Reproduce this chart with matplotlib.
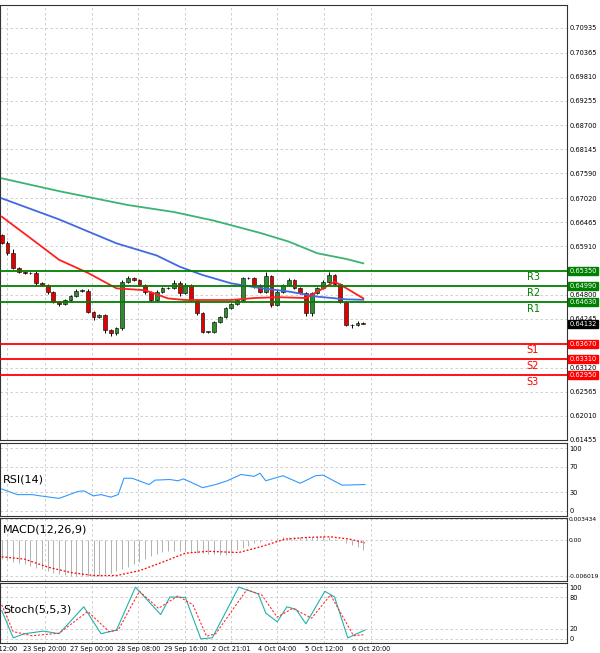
import matplotlib
matplotlib.use("Agg")
import matplotlib.pyplot as plt
import numpy as np

first_open = 0.66171
closes = [0.65994,0.65764,0.65404,0.65312,0.65289,0.65289,0.65058,0.65020,0.64867,0.64636,
          0.64583,0.64675,0.64767,0.64890,0.64890,0.64406,0.64276,0.64330,0.63984,0.63923,
          0.64023,0.65097,0.65173,0.65135,0.65020,0.64867,0.64675,0.64867,0.64943,0.64943,
          0.65074,0.64828,0.65020,0.64675,0.64368,0.63946,0.63946,0.64176,0.64291,0.64483,
          0.64583,0.64675,0.65173,0.65173,0.65020,0.64867,0.65227,0.64560,0.64867,0.65020,
          0.65135,0.64943,0.64844,0.64368,0.64828,0.64943,0.65097,0.65250,0.65043,0.64636,
          0.64099,0.64099,0.64138,0.64132]
upper_wick = [0.0003,0.0004,0.0008,0.0002,0.0002,0.0004,0.0006,0.0002,0.0003,0.0002,
              0.0002,0.0002,0.0003,0.0003,0.0003,0.0003,0.0002,0.0002,0.0002,0.0002,
              0.0003,0.0004,0.0006,0.0003,0.0002,0.0003,0.0002,0.0003,0.0002,0.0003,
              0.0005,0.0003,0.0005,0.0002,0.0002,0.0002,0.0002,0.0002,0.0002,0.0002,
              0.0002,0.0003,0.0004,0.0002,0.0003,0.0003,0.0010,0.0002,0.0003,0.0003,
              0.0004,0.0003,0.0002,0.0002,0.0002,0.0003,0.0003,0.0008,0.0003,0.0002,
              0.0002,0.0002,0.0005,0.0002]
lower_wick = [0.0002,0.0005,0.0002,0.0002,0.0002,0.0002,0.0004,0.0002,0.0006,0.0003,
              0.0004,0.0002,0.0003,0.0002,0.0002,0.0002,0.0006,0.0002,0.0006,0.0007,
              0.0006,0.0003,0.0002,0.0002,0.0002,0.0005,0.0004,0.0003,0.0002,0.0002,
              0.0002,0.0005,0.0002,0.0002,0.0003,0.0002,0.0002,0.0002,0.0002,0.0002,
              0.0002,0.0002,0.0002,0.0002,0.0006,0.0002,0.0002,0.0004,0.0002,0.0002,
              0.0002,0.0002,0.0003,0.0005,0.0006,0.0002,0.0002,0.0002,0.0002,0.0003,
              0.0002,0.0007,0.0002,0.0002]

ma_red_x = [0,5,10,15,20,25,29,32,35,40,44,48,53,56,58,60,63]
ma_red = [0.66593,0.66100,0.65600,0.65300,0.64943,0.64900,0.64710,0.64675,0.64675,0.64675,
          0.64720,0.64740,0.64720,0.64940,0.65097,0.64950,0.64713]
ma_blue_x = [0,10,20,27,31,35,40,45,50,55,60,63]
ma_blue = [0.67015,0.66530,0.65979,0.65700,0.65442,0.65250,0.65058,0.64950,0.64870,0.64752,
           0.64690,0.64680]
ma_green_x = [0,10,22,30,37,45,50,55,60,63]
ma_green = [0.67475,0.67180,0.66860,0.66700,0.66500,0.66220,0.66020,0.65750,0.65620,0.65519]

levels = [0.65350,0.64990,0.64630,0.63670,0.63310,0.62950]
level_names = ["R3","R2","R1","S1","S2","S3"]
level_colors = ["#008000","#008000","#008000","#ff0000","#ff0000","#ff0000"]
current_price = 0.64132
price_ticks = [0.70935,0.70365,0.69810,0.69255,0.68700,0.68145,0.67590,0.67020,0.66465,
               0.65910,0.64800,0.64245,0.63120,0.62565,0.62010,0.61455]

rsi_x = [0,2.7,5.3,6.7,10,13.3,14.3,16,17.3,19,20.3,21.3,22.7,25.7,26.7,29.3,30.7,31.7,35,37.3,
         39.3,41.7,44,45,46,49,52,54.7,56,59.3,63.3]
rsi = [35,26,26,24,20,31,32,24,26,22,26,52,52,42,49,50,48,51,37,42,48,58,55,60,48,56,44,56,57,41,42]

macd_hist = [-0.0031,-0.0033,-0.0036,-0.0038,-0.0040,-0.0043,-0.0046,-0.0049,-0.0052,-0.0055,
             -0.0057,-0.0058,-0.0060,-0.0060,-0.0060,-0.0060,-0.0060,-0.0059,-0.0057,-0.0054,
             -0.0052,-0.0048,-0.0045,-0.0040,-0.0036,-0.0031,-0.0027,-0.0023,-0.0020,-0.0019,
             -0.0018,-0.0018,-0.0019,-0.0020,-0.0021,-0.0022,-0.0023,-0.0024,-0.0025,-0.0025,
             -0.0022,-0.0016,-0.0013,-0.0010,-0.0006,-0.0003,-0.0001,0.0001,0.0003,0.0004,
             0.0004,0.0004,0.0005,0.0005,0.0005,0.0005,0.0006,0.0005,0.0002,-0.0001,
             -0.0006,-0.0008,-0.0012,-0.0016]
macd_sig_x = [0,4,8,12,16,20,24,28,32,36,41.3,45.3,49.3,53.3,57.3,60.7,63.3]
macd_sig = [-0.0028,-0.0032,-0.0045,-0.0054,-0.0059,-0.0059,-0.0051,-0.0037,-0.0022,-0.0019,
            -0.0021,-0.0011,0.0001,0.0004,0.0005,0.0001,-0.0005]

stoch_x = [0,2,4,7.3,10,14.3,17.3,20,23.3,27.7,29.3,32,34.7,36.7,41.3,44.7,46,48,49.7,51.3,53,
           56.3,58,60.3,63.3]
stoch_k = [55,2,10,15,10,62,10,17,100,47,81,80,0,2,100,87,50,33,62,57,29,92,81,2,17]
stoch_sig_x = [0,2,5.3,10,15,18.7,20.3,24,27.3,30.7,33.3,35.7,37.3,42.7,45.3,48,50.7,54,57.3,
               61.3,63]
stoch_d = [66,14,6,11,53,14,17,92,59,83,66,5,10,95,85,42,59,40,85,6,8]

date_x = [1, 7.5, 15.7, 23.8, 32, 40, 48, 56.1, 64.3]
date_labels = ["t12:00","23 Sep 20:00","27 Sep 00:00","28 Sep 08:00","29 Sep 16:00",
               "2 Oct 21:01","4 Oct 04:00","5 Oct 12:00","6 Oct 20:00"]

W, H = 600, 653
fig = plt.figure(figsize=(6, 6.53), dpi=100)
def ax_px(top, bottom):
    return fig.add_axes([0.0, 1 - bottom / H, 567 / W, (bottom - top) / H])

ax = ax_px(5, 440)
ax_rsi = ax_px(443, 516)
ax_macd = ax_px(518, 581)
ax_st = ax_px(583, 643)
XL = (-0.3, 98.5)
tick_fs = 4.8

for a in (ax, ax_rsi, ax_macd, ax_st):
    a.set_xlim(*XL)
    a.set_xticks(date_x)
    a.tick_params(axis='x', length=0, labelbottom=False)
    a.yaxis.tick_right()
    a.tick_params(axis='y', length=0, labelsize=tick_fs, pad=2)
    a.grid(True, color="#c8c8c8", linestyle=(0, (3, 3)), linewidth=0.6)
    for s in a.spines.values():
        s.set_color("#333333"); s.set_linewidth(0.8)

opens = [first_open] + closes[:-1]
for i, (o, c, uw, lw) in enumerate(zip(opens, closes, upper_wick, lower_wick)):
    col = "#2e8b2e" if c >= o else "#e00000"
    hi, lo = max(o, c) + uw, min(o, c) - lw
    ax.vlines(i, lo, hi, color="black", linewidth=0.7, zorder=3)
    b = max(abs(c - o), 0.00006)
    ax.add_patch(plt.Rectangle((i - 0.33, min(o, c)), 0.66, b, facecolor=col,
                               edgecolor="black", linewidth=0.4, zorder=4))
ax.plot(ma_green_x, ma_green, color="#3cb371", lw=1.3, zorder=5)
ax.plot(ma_blue_x, ma_blue, color="#4169e1", lw=1.3, zorder=5)
ax.plot(ma_red_x, ma_red, color="#ff2020", lw=1.3, zorder=5)
ax.set_ylim(0.61453, 0.71464)
ax.set_yticks(price_ticks)
ax.set_yticklabels([f"{v:.5f}" for v in price_ticks])
for lv, nm, lc in zip(levels, level_names, level_colors):
    ax.axhline(lv, color=lc, lw=1.3, zorder=6)
    ax.text(91.5, lv - 0.0004, nm, color=lc, fontsize=7, ha="left", va="top")
    ax.text(1.004, lv, f"{lv:.5f}", transform=ax.get_yaxis_transform(), fontsize=tick_fs,
            color="white", va="center", ha="left", clip_on=False, zorder=10,
            bbox=dict(boxstyle="square,pad=0.15", fc=lc, ec=lc))
ax.text(1.004, current_price, f"{current_price:.5f}", transform=ax.get_yaxis_transform(),
        fontsize=tick_fs, color="white", va="center", ha="left", clip_on=False, zorder=10,
        bbox=dict(boxstyle="square,pad=0.15", fc="black", ec="black"))

ax_rsi.plot(rsi_x, rsi, color="#3399ff", lw=0.8)
ax_rsi.set_ylim(-8, 108)
ax_rsi.set_yticks([0, 30, 70, 100])
ax_rsi.text(0.005, 0.5, "RSI(14)", transform=ax_rsi.transAxes, fontsize=8, va="center")

ax_macd.vlines(range(len(macd_hist)), 0, macd_hist, color="#b0b0b0", lw=0.7)
ax_macd.plot(macd_sig_x, macd_sig, color="#ff0000", lw=0.9, linestyle=(0, (1.5, 1.5)))
ax_macd.set_ylim(-0.0068, 0.0036)
ax_macd.set_yticks([0.003434, 0.0, -0.006019])
ax_macd.set_yticklabels(["0.003434", "0.00", "-0.006019"])
ax_macd.tick_params(axis='y', labelsize=4.3, pad=1)
ax_macd.text(0.005, 0.82, "MACD(12,26,9)", transform=ax_macd.transAxes, fontsize=8, va="center")

ax_st.plot(stoch_x, stoch_k, color="#20b2aa", lw=0.8)
ax_st.plot(stoch_sig_x, stoch_d, color="#ff3030", lw=0.8, linestyle=(0, (2, 1.5)))
ax_st.set_ylim(-8, 108)
ax_st.set_yticks([0, 20, 80, 100])
ax_st.text(0.005, 0.55, "Stoch(5,5,3)", transform=ax_st.transAxes, fontsize=8, va="center")
ax_st.tick_params(axis='x', labelbottom=True, labelsize=4.7, pad=2)
ax_st.set_xticklabels(date_labels)

fig.savefig("out.png", dpi=100, facecolor="white")
